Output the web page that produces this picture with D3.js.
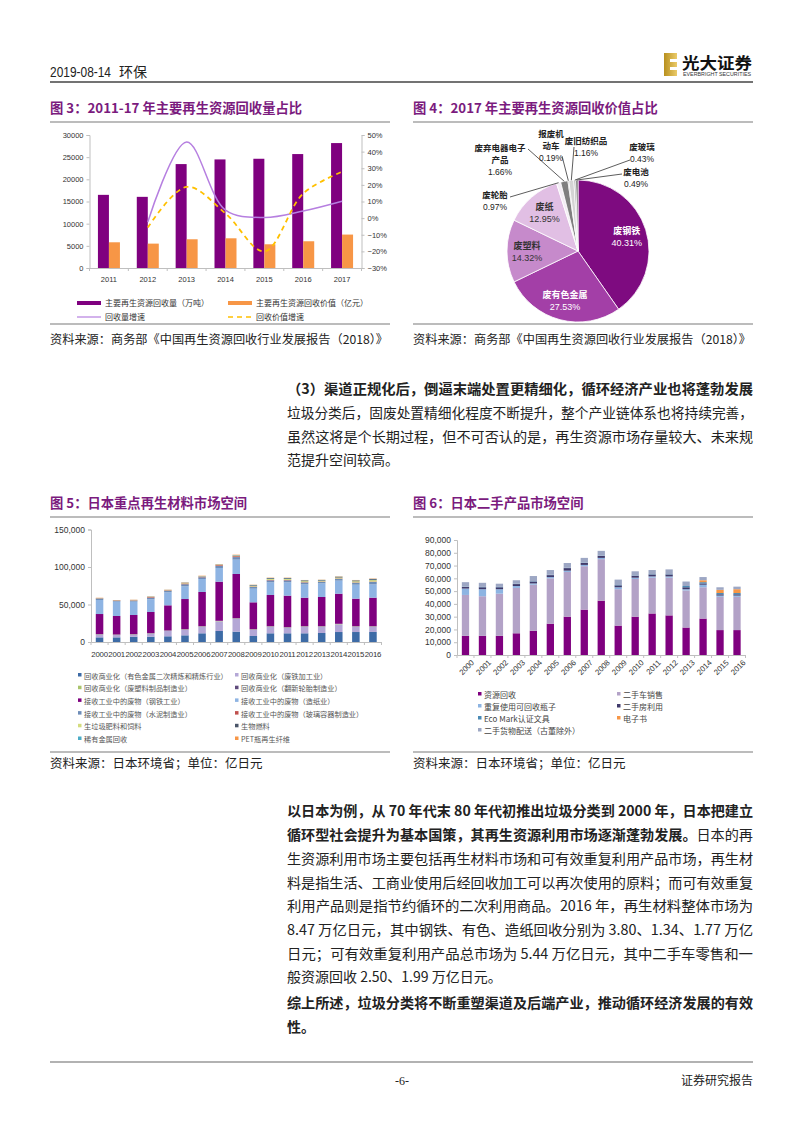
<!DOCTYPE html>
<html><head><meta charset="utf-8">
<script src="https://cdn.jsdelivr.net/npm/d3@7"></script>
<style>
body{margin:0;background:#fff;}
svg{display:block;}
text{font-family:"Noto Sans CJK SC","Liberation Sans",sans-serif;}
</style></head><body>
<svg id="page" width="802" height="1133"></svg>
<script>
// ---------------- DATA ----------------
// Figure 3
const fig3Years = ["2011","2012","2013","2014","2015","2016","2017"];
const fig3Volume = [16500,16050,23440,24490,24640,25700,28180];      // 万吨
const fig3Value = [5800,5500,6480,6700,5350,6030,7540];             // 亿元
const fig3VolumeGrowth = [null,-0.023,0.458,0.048,0.004,0.043,0.102];
const fig3ValueGrowth = [null,-0.057,0.188,0.028,-0.20,0.148,0.279];
const fig3LeftTicks = [0,5000,10000,15000,20000,25000,30000];
const fig3RightTicks = [-0.3,-0.2,-0.1,0,0.1,0.2,0.3,0.4,0.5];
const fig3SeriesNames = ["主要再生资源回收量（万吨）","主要再生资源回收价值（亿元）","回收量增速","回收价值增速"];

// Figure 4
const fig4Names = ["废钢铁","废有色金属","废塑料","废纸","废轮胎","废弃电器电子产品","报废机动车","废旧纺织品","废玻璃","废电池"];
const fig4Shares = [40.31,27.53,14.32,12.95,0.97,1.66,0.19,1.16,0.43,0.49];
const fig4LabelLines = [["废钢铁"],["废有色金属"],["废塑料"],["废纸"],["废轮胎"],["废弃电器电子","产品"],["报废机","动车"],["废旧纺织品"],["废玻璃"],["废电池"]];

// Figure 5 (亿日元)
const fig5Years = ["2000","2001","2002","2003","2004","2005","2006","2007","2008","2009","2010","2011","2012","2013","2014","2015","2016"];
const fig5Names = ["回收商业化（有色金属二次精炼和精炼行业）","回收商业化（废铁加工业）","回收商业化（废塑料制品制造业）","回收商业化（翻新轮胎制造业）","接收工业中的废物（钢铁工业）","接收工业中的废物（造纸业）","接收工业中的废物（水泥制造业）","接收工业中的废物（玻璃容器制造业）","生垃圾肥料和饲料","生物燃料","稀有金属回收","PET瓶再生纤维"];
const fig5NonFerrous = [6200,6200,7100,7100,7600,8900,11600,14700,13800,8000,11600,11600,11600,12000,13300,13300,13400];
const fig5Iron = [3600,3100,2700,4000,7100,7500,8800,12900,17300,8400,8800,7500,8800,8400,10300,7100,7000];
const fig5Plastic = [400,400,400,400,400,400,400,400,400,400,400,400,400,400,400,400,400];
const fig5Tire = [300,300,300,300,300,300,300,300,300,300,300,300,300,300,300,300,300];
const fig5Steel = [26800,24700,25500,28200,33500,40200,45600,52100,58900,35800,41600,42000,38000,38900,40100,36700,38000];
const fig5Paper = [18700,19100,17800,16900,17300,16900,17300,18300,19100,18200,16900,17800,17800,18200,17400,18600,17700];
const fig5Cement = [1500,1100,1300,2200,1900,2800,2300,2800,3400,2300,2600,2600,2400,2000,2400,2600,3200];
const fig5Glass = [600,500,500,800,700,1000,800,1000,1200,600,600,600,500,500,500,500,600];
const fig5Compost = [300,200,300,400,400,600,500,600,800,1000,1300,1300,1300,1000,1300,1500,1900];
const fig5Biofuel = [100,100,100,200,100,300,200,200,300,800,1000,1000,1000,800,900,1000,1300];
const fig5RareMetal = [200,100,100,200,200,300,200,300,400,300,300,300,300,300,300,300,400];
const fig5PET = [300,200,300,300,300,400,400,400,500,300,400,400,300,300,400,400,500];
const fig5Ticks = [0,50000,100000,150000];

// Figure 6 (亿日元)
const fig6Years = ["2000","2001","2002","2003","2004","2005","2006","2007","2008","2009","2010","2011","2012","2013","2014","2015","2016"];
const fig6Names = ["资源回收","二手车销售","重复使用可回收瓶子","二手房利用","Eco Mark认证文具","电子书","二手货物配送（古董除外）"];
const fig6Recycling = [15000,15000,15000,17000,19000,24500,30000,35500,42500,23000,30000,32500,31000,21500,28500,19500,19500];
const fig6UsedCars = [32000,31000,33000,35500,36000,35500,35000,34000,32500,28500,29500,28000,29500,29000,24500,26000,26000];
const fig6Bottles = [5000,5500,3500,1500,1000,1000,1000,1000,1000,1500,1000,1000,1000,1000,2000,1000,1000];
const fig6Housing = [1200,1500,1500,1500,1500,1500,2000,1500,1500,1500,1500,1500,1500,1500,1000,1000,1000];
const fig6EcoMark = [300,300,300,300,300,300,300,300,300,300,300,300,300,1000,1000,1000,1000];
const fig6EBooks = [0,0,0,0,0,0,0,0,0,0,0,0,0,0,1500,2500,3000];
const fig6Delivery = [3500,3200,2500,2700,4000,3700,3700,3700,3700,4200,3200,3200,3700,3500,2500,2000,2000];
const fig6Ticks = [0,10000,20000,30000,40000,50000,60000,70000,80000,90000];

// ---------------- DRAWING ----------------
const svg = d3.select("#page");
const NUM = '"Liberation Sans",Arial,sans-serif';
const TITLE = "#7B1B7E";

function txt(x, y, s, size, opts = {}) {
  const t = svg.append("text").attr("x", x).attr("y", y)
    .style("font-size", size + "px").attr("fill", opts.fill || "#222");
  if (opts.weight) t.style("font-weight", opts.weight);
  if (opts.family) t.style("font-family", opts.family);
  if (opts.anchor) t.attr("text-anchor", opts.anchor);
  if (opts.len) t.attr("textLength", opts.len).attr("lengthAdjust", "spacingAndGlyphs");
  t.text(s);
  return t;
}
function rule(x1, x2, y, color, w) {
  svg.append("line").attr("x1", x1).attr("x2", x2).attr("y1", y).attr("y2", y)
    .attr("stroke", color).attr("stroke-width", w);
}
function styleAxis(g, size) {
  g.select(".domain").attr("stroke", "#BFBFBF");
  g.selectAll(".tick line").attr("stroke", "#BFBFBF");
  g.selectAll(".tick text").style("font-family", NUM).style("font-size", size + "px").attr("fill", "#333");
}

// Header
txt(50, 77, "2019-08-14", 14, {family: NUM, len: 61});
txt(119, 77, "环保", 14);
rule(50, 753, 82, "#444", 1.5);
const defs = svg.append("defs");
const grad = defs.append("linearGradient").attr("id", "gold").attr("x1", 0).attr("x2", 1);
grad.append("stop").attr("offset", "0%").attr("stop-color", "#B8901E");
grad.append("stop").attr("offset", "100%").attr("stop-color", "#EBCB6A");
svg.append("rect").attr("x", 664).attr("y", 53).attr("width", 13).attr("height", 23).attr("fill", "url(#gold)");
svg.append("rect").attr("x", 670).attr("y", 59).attr("width", 7).attr("height", 3).attr("fill", "#fff");
svg.append("rect").attr("x", 670).attr("y", 67).attr("width", 7).attr("height", 3).attr("fill", "#fff");
txt(682, 69, "光大证券", 16, {weight: "bold", fill: "#111", len: 70});
txt(683, 76, "EVERBRIGHT SECURITIES", 4.5, {family: NUM, fill: "#333", len: 68});

// Titles
const TS = 13.3;
txt(50, 113, "图 3：2011-17 年主要再生资源回收量占比", TS, {weight: "bold", fill: TITLE});
txt(413, 113, "图 4：2017 年主要再生资源回收价值占比", TS, {weight: "bold", fill: TITLE});
rule(50, 390, 122, "#A6A6A6", 1.5);
rule(413, 753, 122, "#A6A6A6", 1.5);

// ---------- Figure 3 ----------
{
  const x = d3.scaleBand().domain(fig3Years).range([89.5, 361.5]);
  const yL = d3.scaleLinear().domain([0, 30000]).range([268, 135]);
  const yR = d3.scaleLinear().domain([-0.3, 0.5]).range([268, 135]);
  const g = svg.append("g");
  const bw = 11;
  g.selectAll(".vol").data(fig3Years).join("rect")
    .attr("x", d => x(d) + x.bandwidth() / 2 - bw).attr("width", bw)
    .attr("y", (d, i) => yL(fig3Volume[i])).attr("height", (d, i) => yL(0) - yL(fig3Volume[i]))
    .attr("fill", "#7F007F");
  g.selectAll(".val").data(fig3Years).join("rect")
    .attr("x", d => x(d) + x.bandwidth() / 2).attr("width", bw)
    .attr("y", (d, i) => yL(fig3Value[i])).attr("height", (d, i) => yL(0) - yL(fig3Value[i]))
    .attr("fill", "#F79646");
  const ga = g.append("g").attr("transform", "translate(89.5,0)")
    .call(d3.axisLeft(yL).tickValues(fig3LeftTicks).tickSize(3).tickFormat(d3.format("d")));
  styleAxis(ga, 7.5);
  const gr = g.append("g").attr("transform", "translate(361.5,0)")
    .call(d3.axisRight(yR).tickValues(fig3RightTicks).tickSize(3).tickFormat(d3.format(".0%")));
  styleAxis(gr, 7.5);
  const gx = g.append("g").attr("transform", "translate(0,268)")
    .call(d3.axisBottom(x).tickSize(0).tickPadding(9));
  styleAxis(gx, 7.5);
  gx.selectAll(".bnd").data(fig3Years.concat(["end"])).join("line")
    .attr("x1", (d, i) => x.range()[0] + i * x.step()).attr("x2", (d, i) => x.range()[0] + i * x.step())
    .attr("y1", 0).attr("y2", 3).attr("stroke", "#BFBFBF");
  const line = (arr) => d3.line()
    .defined(d => d.v !== null)
    .x(d => x(d.k) + x.bandwidth() / 2).y(d => yR(d.v))
    .curve(d3.curveCatmullRom.alpha(0.5))(fig3Years.map((k, i) => ({k, v: arr[i]})));
  g.append("path").attr("d", line(fig3VolumeGrowth)).attr("fill", "none")
    .attr("stroke", "#B67FE0").attr("stroke-width", 1.5);
  g.append("path").attr("d", line(fig3ValueGrowth)).attr("fill", "none")
    .attr("stroke", "#FFC000").attr("stroke-width", 1.8).attr("stroke-dasharray", "5,4");
  // legend
  const lg = [[77, 303, 0], [228, 303, 1], [77, 317, 2], [228, 317, 3]];
  lg.forEach(([lx, ly, i]) => {
    if (i < 2) g.append("rect").attr("x", lx).attr("y", ly - 2).attr("width", 24).attr("height", 4)
      .attr("fill", i === 0 ? "#7F007F" : "#F79646");
    else g.append("line").attr("x1", lx).attr("x2", lx + 24).attr("y1", ly).attr("y2", ly)
      .attr("stroke", i === 2 ? "#B67FE0" : "#FFC000").attr("stroke-width", i === 2 ? 1.2 : 1.5)
      .attr("stroke-dasharray", i === 3 ? "5,4" : null);
    txt(lx + 28, ly + 3, fig3SeriesNames[i], 8, {fill: "#333"});
  });
}
rule(50, 390, 324, "#A6A6A6", 1.5);
txt(50, 344, "资料来源：商务部《中国再生资源回收行业发展报告（2018）》", 12, {len: 338});

// ---------- Figure 4 ----------
{
  const cx = 578, cy = 251, r = 71;
  const colors = ["#7E0B80", "#A33FA7", "#C68ACB", "#E1BFE4", "#F3EDF4", "#7F7F7F", "#3F3F3F", "#D4D4D4", "#A5A5A5", "#606060"];
  const pie = d3.pie().sort(null).value(d => d)(fig4Shares);
  const arc = d3.arc().innerRadius(0).outerRadius(r);
  const g = svg.append("g").attr("transform", `translate(${cx},${cy})`);
  g.selectAll("path").data(pie).join("path").attr("d", arc)
    .attr("fill", (d, i) => colors[i]).attr("stroke", "#fff").attr("stroke-width", 0.8);
  const inner = d3.arc().innerRadius(51).outerRadius(51);
  const edge = d3.arc().innerRadius(r).outerRadius(r);
  const fmt = v => v.toFixed(2) + "%";
  pie.slice(0, 4).forEach((d, i) => {
    const [px, py] = inner.centroid(d);
    const col = i < 2 ? "#fff" : "#333";
    g.append("text").attr("x", px).attr("y", py - 2).attr("text-anchor", "middle")
      .style("font-size", "9px").style("font-weight", "bold").attr("fill", col).text(fig4LabelLines[i][0]);
    g.append("text").attr("x", px).attr("y", py + 10).attr("text-anchor", "middle")
      .style("font-size", "9px").style("font-family", NUM).attr("fill", col).text(fmt(fig4Shares[i]));
  });
  // outer labels: [text centre x, first line y, leader start x, leader start y] relative to pie centre
  const outerLayout = {
    4: [-83, -53, -68, -54],
    5: [-78, -100, -50, -102],
    6: [-27, -114, -16, -95],
    7: [8, -107, -4, -104],
    8: [64, -101, 52, -91],
    9: [58, -76, 44, -77]
  };
  Object.keys(outerLayout).forEach(k => {
    const i = +k, [tx, ty, lx, ly] = outerLayout[k];
    const [ex, ey] = edge.centroid(pie[i]);
    g.append("polyline").attr("points", `${lx},${ly} ${ex},${ey}`)
      .attr("fill", "none").attr("stroke", "#333").attr("stroke-width", 0.8);
    const lines = fig4LabelLines[i];
    lines.forEach((s, j) => g.append("text").attr("x", tx).attr("y", ty + j * 12).attr("text-anchor", "middle")
      .style("font-size", "8.5px").style("font-weight", "bold").attr("fill", "#222").text(s));
    g.append("text").attr("x", tx).attr("y", ty + lines.length * 12).attr("text-anchor", "middle")
      .style("font-size", "8.5px").style("font-family", NUM).attr("fill", "#222").text(fmt(fig4Shares[i]));
  });
}
rule(413, 753, 324, "#A6A6A6", 1.5);
txt(413, 344, "资料来源：商务部《中国再生资源回收行业发展报告（2018）》", 12, {len: 338});

// ---------- Middle text ----------
txt(287, 394, "（3）渠道正规化后，倒逼末端处置更精细化，循环经济产业也将蓬勃发展", 14, {weight: "bold", len: 466});
txt(287, 418, "垃圾分类后，固废处置精细化程度不断提升，整个产业链体系也将持续完善，", 14, {len: 466});
txt(287, 442, "虽然这将是个长期过程，但不可否认的是，再生资源市场存量较大、未来规", 14, {len: 466});
txt(287, 465, "范提升空间较高。", 14);

// Titles 5/6
txt(50, 508, "图 5：日本重点再生材料市场空间", TS, {weight: "bold", fill: TITLE});
txt(413, 508, "图 6：日本二手产品市场空间", TS, {weight: "bold", fill: TITLE});
rule(50, 390, 517, "#A6A6A6", 1.5);
rule(413, 753, 517, "#A6A6A6", 1.5);

// ---------- Figure 5 ----------
{
  const series = [fig5NonFerrous, fig5Iron, fig5Plastic, fig5Tire, fig5Steel, fig5Paper, fig5Cement, fig5Glass, fig5Compost, fig5Biofuel, fig5RareMetal, fig5PET];
  const colors = ["#3D6BA6", "#B4A7D6", "#A9C46C", "#5F4B7C", "#7F007F", "#8EB4E3", "#6E8DB8", "#C0504D", "#D4DC7E", "#4A5568", "#4BACC6", "#F79646"];
  const rows = fig5Years.map((y, i) => { const o = {year: y}; series.forEach((s, j) => o["s" + j] = s[i]); return o; });
  const stack = d3.stack().keys(series.map((s, j) => "s" + j))(rows);
  const x = d3.scaleBand().domain(fig5Years).range([91, 381.5]).paddingInner(0.56).paddingOuter(0.28);
  const y = d3.scaleLinear().domain([0, 150000]).range([642, 529.5]);
  const g = svg.append("g");
  g.selectAll(".layer").data(stack).join("g").attr("fill", (d, j) => colors[j])
    .selectAll("rect").data(d => d).join("rect")
    .attr("x", d => x(d.data.year)).attr("width", x.bandwidth())
    .attr("y", d => y(d[1])).attr("height", d => y(d[0]) - y(d[1]));
  const ga = g.append("g").attr("transform", "translate(91,0)")
    .call(d3.axisLeft(y).tickValues(fig5Ticks).tickSize(3).tickFormat(d3.format(",")));
  styleAxis(ga, 8.5);
  const gx = g.append("g").attr("transform", "translate(0,642)")
    .call(d3.axisBottom(x).tickSize(0).tickPadding(9));
  styleAxis(gx, 7.8);
  gx.selectAll(".tick text").attr("letter-spacing", "-0.2");
  gx.selectAll(".bnd").data(fig5Years.concat(["end"])).join("line")
    .attr("x1", (d, i) => 91 + i * x.step()).attr("x2", (d, i) => 91 + i * x.step())
    .attr("y1", 0).attr("y2", 3).attr("stroke", "#BFBFBF");
  fig5Names.forEach((n, i) => {
    const col = i % 2, row = Math.floor(i / 2);
    const lx = col === 0 ? 78 : 235, ly = 676 + row * 12.7;
    g.append("rect").attr("x", lx).attr("y", ly - 3).attr("width", 3.5).attr("height", 3.5).attr("fill", colors[i]);
    txt(lx + 6, ly + 2.5, n, 7.2, {fill: "#555"});
  });
}
rule(50, 390, 752, "#A6A6A6", 1.5);
txt(50, 768, "资料来源：日本环境省；单位：亿日元", 12.5);

// ---------- Figure 6 ----------
{
  const series = [fig6Recycling, fig6UsedCars, fig6Bottles, fig6Housing, fig6EcoMark, fig6EBooks, fig6Delivery];
  const colors = ["#7F007F", "#B3A2C7", "#8DB4E2", "#403A6B", "#4A8AB5", "#F79646", "#9DA7C4"];
  const rows = fig6Years.map((y, i) => { const o = {year: y}; series.forEach((s, j) => o["s" + j] = s[i]); return o; });
  const stack = d3.stack().keys(series.map((s, j) => "s" + j))(rows);
  const x = d3.scaleBand().domain(fig6Years).range([457, 745.5]).paddingInner(0.57).paddingOuter(0.285);
  const y = d3.scaleLinear().domain([0, 90000]).range([655, 540]);
  const g = svg.append("g");
  g.selectAll(".layer").data(stack).join("g").attr("fill", (d, j) => colors[j])
    .selectAll("rect").data(d => d).join("rect")
    .attr("x", d => x(d.data.year)).attr("width", x.bandwidth())
    .attr("y", d => y(d[1])).attr("height", d => y(d[0]) - y(d[1]));
  const ga = g.append("g").attr("transform", "translate(457,0)")
    .call(d3.axisLeft(y).tickValues(fig6Ticks).tickSize(3).tickFormat(d3.format(",")));
  styleAxis(ga, 8.5);
  const gx = g.append("g").attr("transform", "translate(0,655)")
    .call(d3.axisBottom(x).tickSize(0).tickPadding(6));
  styleAxis(gx, 7.8);
  gx.selectAll(".tick text").attr("text-anchor", "end")
    .attr("transform", "translate(3,2) rotate(-45)").attr("dy", "0.35em").attr("y", 6);
  gx.selectAll(".bnd").data(fig6Years.concat(["end"])).join("line")
    .attr("x1", (d, i) => 457 + i * x.step()).attr("x2", (d, i) => 457 + i * x.step())
    .attr("y1", 0).attr("y2", 3).attr("stroke", "#BFBFBF");
  const pos = [[478, 695], [617, 695], [478, 707], [617, 707], [478, 719], [617, 719], [478, 731]];
  fig6Names.forEach((n, i) => {
    const [lx, ly] = pos[i];
    g.append("rect").attr("x", lx).attr("y", ly - 3).attr("width", 3.5).attr("height", 3.5).attr("fill", colors[i]);
    txt(lx + 6, ly + 3, n, 8, {fill: "#444"});
  });
}
rule(413, 753, 752, "#A6A6A6", 1.5);
txt(413, 768, "资料来源：日本环境省；单位：亿日元", 12.5);

// ---------- Bottom text ----------
function mixed(y, parts, len) {
  const t = svg.append("text").attr("x", 287).attr("y", y).style("font-size", "14px").attr("fill", "#222");
  if (len) t.attr("textLength", len).attr("lengthAdjust", "spacingAndGlyphs");
  parts.forEach(([s, b]) => t.append("tspan").style("font-weight", b ? "bold" : "normal").text(s));
}
mixed(816, [["以日本为例，从 70 年代末 80 年代初推出垃圾分类到 2000 年，日本把建立", 1]], 466);
mixed(840, [["循环型社会提升为基本国策，其再生资源利用市场逐渐蓬勃发展。", 1], ["日本的再", 0]], 466);
mixed(864, [["生资源利用市场主要包括再生材料市场和可有效重复利用产品市场，再生材", 0]], 466);
mixed(888, [["料是指生活、工商业使用后经回收加工可以再次使用的原料；而可有效重复", 0]], 466);
mixed(911, [["利用产品则是指节约循环的二次利用商品。2016 年，再生材料整体市场为", 0]], 466);
mixed(935, [["8.47 万亿日元，其中钢铁、有色、造纸回收分别为 3.80、1.34、1.77 万亿", 0]], 466);
mixed(959, [["日元；可有效重复利用产品总市场为 5.44 万亿日元，其中二手车零售和一", 0]], 466);
mixed(982, [["般资源回收 2.50、1.99 万亿日元。", 0]]);
mixed(1008, [["综上所述，垃圾分类将不断重塑渠道及后端产业，推动循环经济发展的有效", 1]], 466);
mixed(1032, [["性。", 1]]);

// Footer
rule(50, 753, 1062, "#666", 1.2);
txt(402, 1085, "-6-", 12, {anchor: "middle", family: '"Liberation Serif",serif'});
txt(753, 1085, "证券研究报告", 12, {anchor: "end"});
</script>
</body></html>
